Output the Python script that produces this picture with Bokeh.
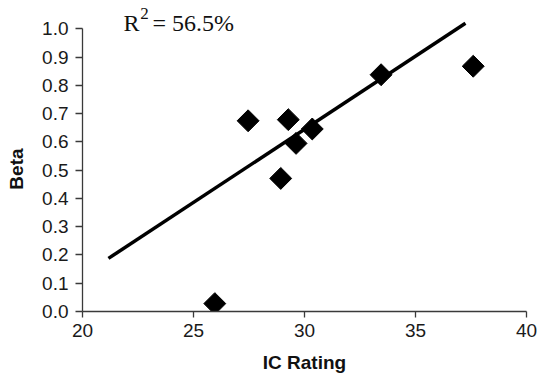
import math
from bokeh.plotting import figure
from bokeh.models import Range1d, Label, FixedTicker, CustomJSTickFormatter
from bokeh.embed import file_html
from bokeh.resources import INLINE

# Data
ic_rating = [25.96, 27.46, 28.93, 29.27, 29.62, 30.35, 33.45, 37.6]
beta = [0.028, 0.675, 0.471, 0.679, 0.595, 0.646, 0.838, 0.868]
# Fitted trend line as drawn in the chart (endpoints)
trend_x = [21.17, 37.25]
trend_y = [0.188, 1.02]
r_squared_text = "= 56.5%"
x_ticks = [20, 25, 30, 35, 40]
y_ticks = [0.0, 0.1, 0.2, 0.3, 0.4, 0.5, 0.6, 0.7, 0.8, 0.9, 1.0]

p = figure(width=537, height=377, output_backend="svg", toolbar_location=None,
           x_range=Range1d(20, 40), y_range=Range1d(0, 1.083),
           min_border_left=82, min_border_right=11, min_border_top=5, min_border_bottom=66)
p.outline_line_color = None
p.grid.visible = False
p.background_fill_color = "white"
p.border_fill_color = "white"

p.line(trend_x, trend_y, line_color="black", line_width=3.5)
p.scatter(ic_rating, beta, marker="square", size=15.5, angle=math.pi / 4,
          fill_color="black", line_color="black")

axis_color = "#3a3a3a"
for ax in (p.xaxis[0], p.yaxis[0]):
    ax.axis_line_color = axis_color
    ax.axis_line_width = 1.3
    ax.major_tick_line_color = axis_color
    ax.major_tick_line_width = 1.3
    ax.major_tick_out = 6
    ax.major_tick_in = 0
    ax.minor_tick_line_color = None
    ax.major_label_text_font = "Liberation Sans"
    ax.major_label_text_font_size = "19px"
    ax.major_label_text_color = "#1a1a1a"
    ax.axis_label_text_font = "Liberation Sans"
    ax.axis_label_text_font_style = "bold"
    ax.axis_label_text_font_size = "19px"
    ax.axis_label_text_color = "#111111"

p.xaxis[0].ticker = FixedTicker(ticks=x_ticks)
p.yaxis[0].ticker = FixedTicker(ticks=y_ticks)
p.yaxis[0].formatter = CustomJSTickFormatter(code="return tick.toFixed(1);")
p.yaxis[0].bounds = (0, 1)
p.yaxis[0].major_tick_out = 7
p.xaxis[0].axis_label = "IC Rating"
# trailing no-break spaces shift the centred label down to the middle of the 0-1 axis
p.yaxis[0].axis_label = "Beta" + "\u00a0" * 4
p.xaxis[0].major_label_standoff = 6
p.yaxis[0].major_label_standoff = 7
p.xaxis[0].axis_label_standoff = 12
p.yaxis[0].axis_label_standoff = 12

serif = "Liberation Serif"
p.add_layout(Label(x=21.85, y=1.022, text="R", text_font=serif, text_font_size="24px",
                   text_color="#111111", text_baseline="alphabetic"))
p.add_layout(Label(x=22.6, y=1.056, text="2", text_font=serif, text_font_size="17px",
                   text_color="#111111", text_baseline="alphabetic"))
p.add_layout(Label(x=23.15, y=1.022, text=r_squared_text, text_font=serif, text_font_size="24px",
                   text_color="#111111", text_baseline="alphabetic"))

open("out.html", "w").write(file_html(p, INLINE))
